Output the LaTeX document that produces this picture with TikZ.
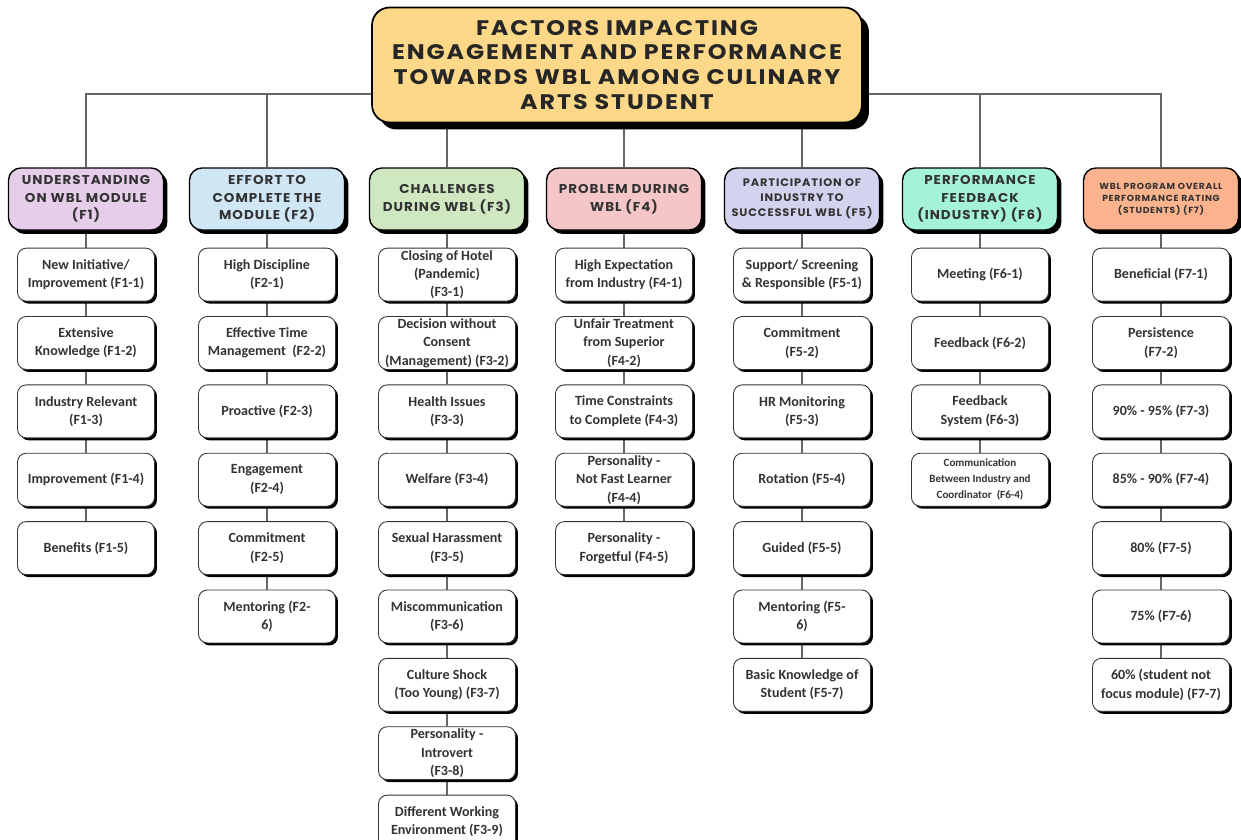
\documentclass[tikz,border=0pt]{standalone}
\usepackage{fontspec}
\setmainfont{Carlito}
\newfontfamily\titlefont{Poppins}[FakeStretch=1.13, LetterSpace=9]
\newfontfamily\headfont{Poppins}[FakeStretch=1.05, LetterSpace=8]
\usepackage{xcolor}
\usepackage{tikz}
\usetikzlibrary{positioning, shadows, backgrounds}

\definecolor{titlefill}{HTML}{FDD888}
\definecolor{fonefill}{HTML}{E6CEEB}
\definecolor{ftwofill}{HTML}{CFE6F5}
\definecolor{fthreefill}{HTML}{CFE8C2}
\definecolor{ffourfill}{HTML}{F5C6C7}
\definecolor{ffivefill}{HTML}{D3D3F0}
\definecolor{fsixfill}{HTML}{A4F2D9}
\definecolor{fsevenfill}{HTML}{FBB38D}

\begin{document}
\begin{tikzpicture}[
    x=0.02cm, y=-0.02cm,
    node distance=0.29cm,
    link/.style={draw=black!60, line width=0.6pt},
    titlebox/.style={rectangle, rounded corners=10pt, draw, line width=1pt, fill=titlefill,
        minimum width=9.8cm, minimum height=2.3cm, align=center, text=black!85,
        font=\titlefont\bfseries\fontsize{12}{14.2}\selectfont,
        drop shadow={shadow xshift=0.14cm, shadow yshift=-0.14cm, fill=black, opacity=1}},
    factor/.style={rectangle, rounded corners=7pt, draw, line width=0.8pt,
        minimum width=3.1cm, minimum height=1.24cm, inner ysep=0pt, align=center, text=black!80,
        font=\headfont\bfseries\fontsize{7.3}{10}\selectfont,
        drop shadow={shadow xshift=0.08cm, shadow yshift=-0.08cm, fill=black, opacity=1}},
    box/.style={rectangle, rounded corners=5pt, draw=black!80, line width=0.5pt, fill=white,
        minimum width=2.74cm, minimum height=1.06cm, inner ysep=0pt, align=center, text=black!80,
        font=\bfseries\fontsize{8}{10.5}\selectfont,
        drop shadow={shadow xshift=0.05cm, shadow yshift=-0.05cm, fill=black, opacity=1}}
]
    \useasboundingbox (0,0) rectangle (1241,839);

    % title and factor headers
    \node[titlebox] (title) at (617,65) {FACTORS IMPACTING\\ENGAGEMENT AND PERFORMANCE\\TOWARDS WBL AMONG CULINARY\\ARTS STUDENT};
    \coordinate (bus) at (617,94);

    \node[factor, fill=fonefill] (h1) at (86,199) {UNDERSTANDING\\ON WBL MODULE\\(F1)};
    \node[factor, fill=ftwofill] (h2) at (267,199) {EFFORT TO\\COMPLETE THE\\MODULE (F2)};
    \node[factor, fill=fthreefill] (h3) at (447,199) {CHALLENGES\\DURING WBL (F3)};
    \node[factor, fill=ffourfill] (h4) at (624,199) {PROBLEM DURING\\WBL (F4)};
    \node[factor, fill=ffivefill, font=\headfont\bfseries\fontsize{6.2}{8.5}\selectfont] (h5) at (802,199) {PARTICIPATION OF\\INDUSTRY TO\\SUCCESSFUL WBL (F5)};
    \node[factor, fill=fsixfill] (h6) at (980,199) {PERFORMANCE\\FEEDBACK\\(INDUSTRY) (F6)};
    \node[factor, fill=fsevenfill, font=\headfont\bfseries\fontsize{5}{6.8}\selectfont] (h7) at (1161,199) {WBL PROGRAM OVERALL\\PERFORMANCE RATING\\(STUDENTS) (F7)};

    % F1
    \node[box, below=0.34cm of h1] (f11) {New Initiative/\\Improvement (F1-1)};
    \node[box, below=of f11] (f12) {Extensive\\Knowledge (F1-2)};
    \node[box, below=of f12] (f13) {Industry Relevant\\(F1-3)};
    \node[box, below=of f13] (f14) {Improvement (F1-4)};
    \node[box, below=of f14] (f15) {Benefits (F1-5)};

    % F2
    \node[box, below=0.34cm of h2] (f21) {High Discipline\\(F2-1)};
    \node[box, below=of f21] (f22) {Effective Time\\Management~ (F2-2)};
    \node[box, below=of f22] (f23) {Proactive (F2-3)};
    \node[box, below=of f23] (f24) {Engagement\\(F2-4)};
    \node[box, below=of f24] (f25) {Commitment\\(F2-5)};
    \node[box, below=of f25] (f26) {Mentoring (F2-\\6)};

    % F3
    \node[box, below=0.34cm of h3] (f31) {Closing of Hotel\\(Pandemic)\\(F3-1)};
    \node[box, below=of f31] (f32) {Decision without\\Consent\\(Management) (F3-2)};
    \node[box, below=of f32] (f33) {Health Issues\\(F3-3)};
    \node[box, below=of f33] (f34) {Welfare (F3-4)};
    \node[box, below=of f34] (f35) {Sexual Harassment\\(F3-5)};
    \node[box, below=of f35] (f36) {Miscommunication\\(F3-6)};
    \node[box, below=of f36] (f37) {Culture Shock\\(Too Young) (F3-7)};
    \node[box, below=of f37] (f38) {Personality -\\Introvert\\(F3-8)};
    \node[box, below=of f38] (f39) {Different Working\\Environment (F3-9)};

    % F4
    \node[box, below=0.34cm of h4] (f41) {High Expectation\\from Industry (F4-1)};
    \node[box, below=of f41] (f42) {Unfair Treatment\\from Superior\\(F4-2)};
    \node[box, below=of f42] (f43) {Time Constraints\\to Complete (F4-3)};
    \node[box, below=of f43] (f44) {Personality -\\Not Fast Learner\\(F4-4)};
    \node[box, below=of f44] (f45) {Personality -\\Forgetful (F4-5)};

    % F5
    \node[box, below=0.34cm of h5] (f51) {Support/ Screening\\\& Responsible (F5-1)};
    \node[box, below=of f51] (f52) {Commitment\\(F5-2)};
    \node[box, below=of f52] (f53) {HR Monitoring\\(F5-3)};
    \node[box, below=of f53] (f54) {Rotation (F5-4)};
    \node[box, below=of f54] (f55) {Guided (F5-5)};
    \node[box, below=of f55] (f56) {Mentoring (F5-\\6)};
    \node[box, below=of f56] (f57) {Basic Knowledge of\\Student (F5-7)};

    % F6
    \node[box, below=0.34cm of h6] (f61) {Meeting (F6-1)};
    \node[box, below=of f61] (f62) {Feedback (F6-2)};
    \node[box, below=of f62] (f63) {Feedback\\System (F6-3)};
    \node[box, below=of f63, font=\bfseries\fontsize{6.3}{9}\selectfont] (f64) {Communication\\Between Industry and\\Coordinator~ (F6-4)};

    % F7
    \node[box, below=0.34cm of h7] (f71) {Beneficial (F7-1)};
    \node[box, below=of f71] (f72) {Persistence\\(F7-2)};
    \node[box, below=of f72] (f73) {90\% - 95\% (F7-3)};
    \node[box, below=of f73] (f74) {85\% - 90\% (F7-4)};
    \node[box, below=of f74] (f75) {80\% (F7-5)};
    \node[box, below=of f75] (f76) {75\% (F7-6)};
    \node[box, below=of f76] (f77) {60\% (student not\\focus module) (F7-7)};

    \begin{scope}[on background layer]
        \draw[link] (h1.north) |- (bus) -| (h7.north);
        \draw[link] (h2.north) -- (h2.north |- bus);
        \draw[link] (h3.north) -- (h3.north |- bus);
        \draw[link] (h4.north) -- (h4.north |- bus);
        \draw[link] (h5.north) -- (h5.north |- bus);
        \draw[link] (h6.north) -- (h6.north |- bus);

        \draw[link] (h1) -- (f11) -- (f12) -- (f13) -- (f14) -- (f15);
        \draw[link] (h2) -- (f21) -- (f22) -- (f23) -- (f24) -- (f25) -- (f26);
        \draw[link] (h3) -- (f31) -- (f32) -- (f33) -- (f34) -- (f35) -- (f36) -- (f37) -- (f38) -- (f39);
        \draw[link] (h4) -- (f41) -- (f42) -- (f43) -- (f44) -- (f45);
        \draw[link] (h5) -- (f51) -- (f52) -- (f53) -- (f54) -- (f55) -- (f56) -- (f57);
        \draw[link] (h6) -- (f61) -- (f62) -- (f63) -- (f64);
        \draw[link] (h7) -- (f71) -- (f72) -- (f73) -- (f74) -- (f75) -- (f76) -- (f77);
    \end{scope}
\end{tikzpicture}
\end{document}
